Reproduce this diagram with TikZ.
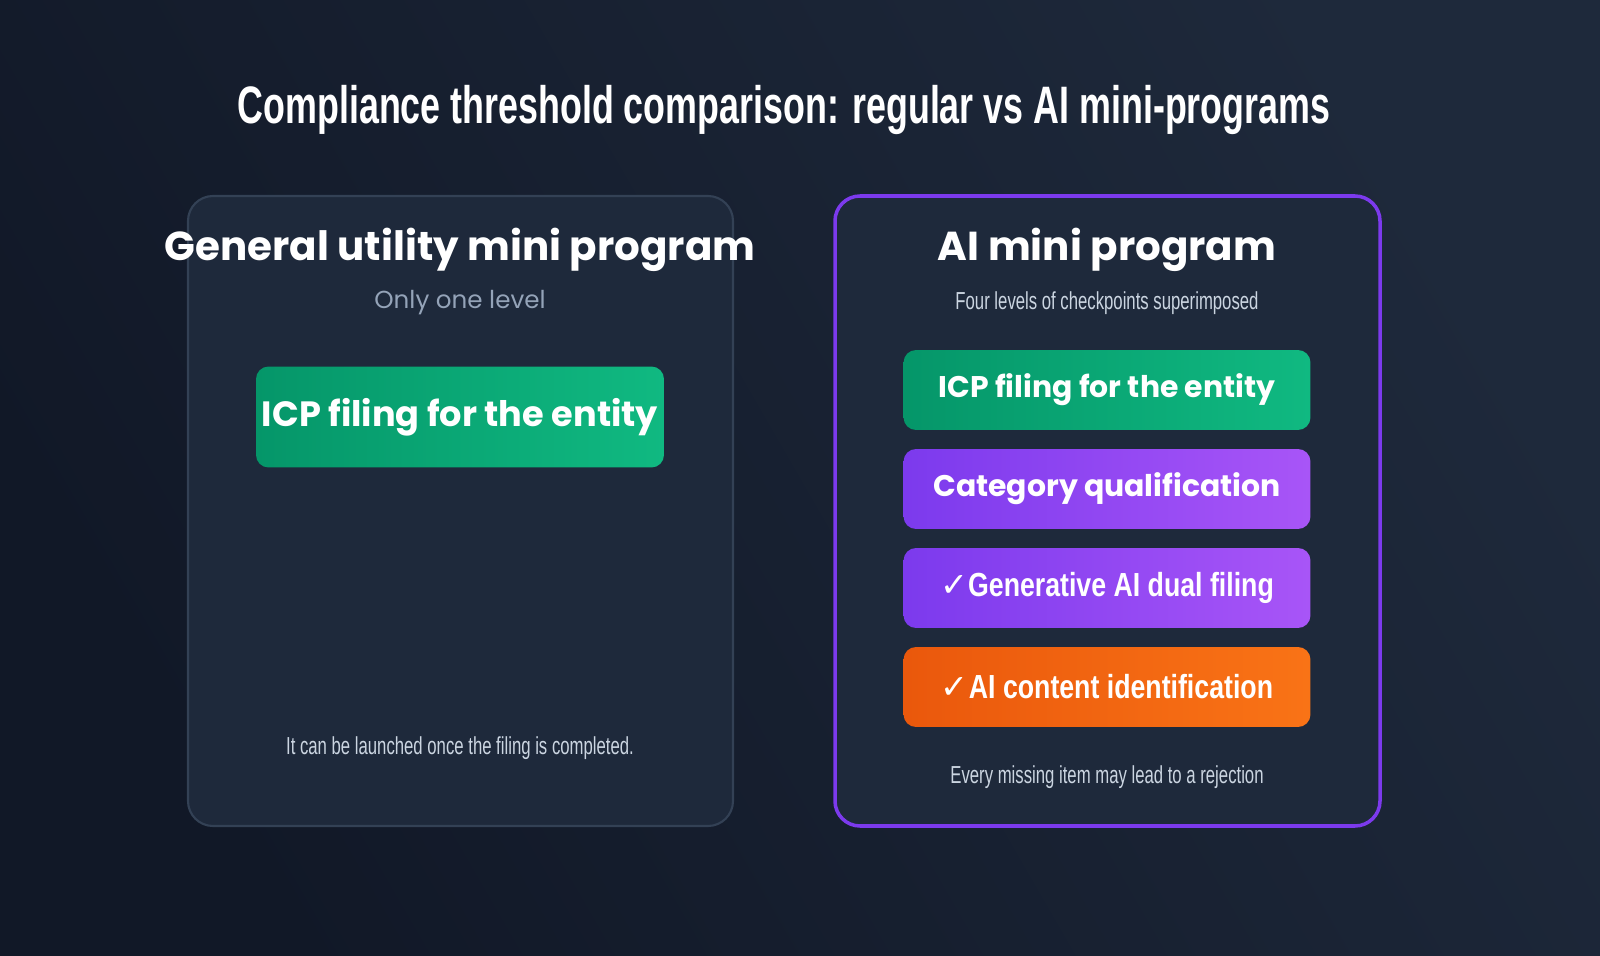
\documentclass[tikz,border=0pt]{standalone}
\usepackage{fontspec}
\setmainfont{Liberation Sans}
\newfontfamily\pop{Poppins}
\newfontfamily\sym{DejaVu Sans}
\usetikzlibrary{positioning}
\definecolor{bgA}{HTML}{111827}
\definecolor{bgB}{HTML}{1E293B}
\definecolor{panel}{HTML}{1E293B}
\definecolor{edgegray}{HTML}{334155}
\definecolor{violet}{HTML}{7C3AED}
\definecolor{greenA}{HTML}{059669}
\definecolor{greenB}{HTML}{10B981}
\definecolor{purpA}{HTML}{7C3AED}
\definecolor{purpB}{HTML}{A855F7}
\definecolor{orA}{HTML}{EA580C}
\definecolor{orB}{HTML}{F97316}
\definecolor{subgray}{HTML}{94A3B8}
\definecolor{notegray}{HTML}{CBD5E1}
\newcommand{\narrow}[1]{\scalebox{0.8}[1]{#1}}
\newcommand{\slim}[1]{\scalebox{0.68}[1]{#1}}
\begin{document}
\begin{tikzpicture}[x=0.02cm,y=-0.02cm]
\tikzstyle{panelbox} = [rounded corners=0.5cm, fill=panel]
\tikzstyle{level} = [rounded corners=0.25cm, minimum width=8.14cm, minimum height=1.6cm, text=white, font=\pop\bfseries\fontsize{17}{20}\selectfont]
\tikzstyle{head} = [text=white, font=\pop\bfseries\fontsize{23}{27}\selectfont]
\tikzstyle{note} = [text=notegray, font=\fontsize{14}{17}\selectfont]

\shade[left color=bgA, right color=bgB, shading angle=120] (0,0) rectangle (1600,956);
\useasboundingbox (0,0) rectangle (1600,956);

\node (title) [text=white, font=\bfseries\fontsize{30}{36}\selectfont] at (784,110) {\slim{Compliance threshold comparison: regular vs AI mini-programs}};

% left panel
\draw [panelbox, draw=edgegray, line width=1.2pt] (188,196) rectangle (733,826);
\node (lhead) [head] at (460,250) {General utility mini program};
\node (lsub) [text=subgray, font=\pop\fontsize{14}{17}\selectfont] at (460,303) {Only one level};
\node (licp) [level, left color=greenA, right color=greenB, minimum height=2.02cm, font=\pop\bfseries\fontsize{20}{24}\selectfont] at (460,417) {ICP filing for the entity};
\node (lnote) [note] at (460,748) {\slim{It can be launched once the filing is completed.}};

% right panel
\draw [panelbox, draw=violet, line width=2pt] (835,196) rectangle (1380,826);
\node (rhead) [head] at (1107,250) {AI mini program};
\node (rsub) [note] at (1107,303) {\slim{Four levels of checkpoints superimposed}};
\node (ricp) [level, left color=greenA, right color=greenB] at (1107,390) {ICP filing for the entity};
\node (rcat) [level, left color=purpA, right color=purpB] at (1107,489) {Category qualification};
\node (rgen) [level, left color=purpA, right color=purpB, font=\bfseries\fontsize{19}{22}\selectfont] at (1107,588) {{\sym\bfseries ✓}\narrow{Generative AI dual filing}};
\node (raic) [level, left color=orA, right color=orB, font=\bfseries\fontsize{19}{22}\selectfont] at (1107,687) {{\sym\bfseries ✓}\narrow{AI content identification}};
\node (rnote) [note] at (1107,777) {\slim{Every missing item may lead to a rejection}};
\end{tikzpicture}
\end{document}
